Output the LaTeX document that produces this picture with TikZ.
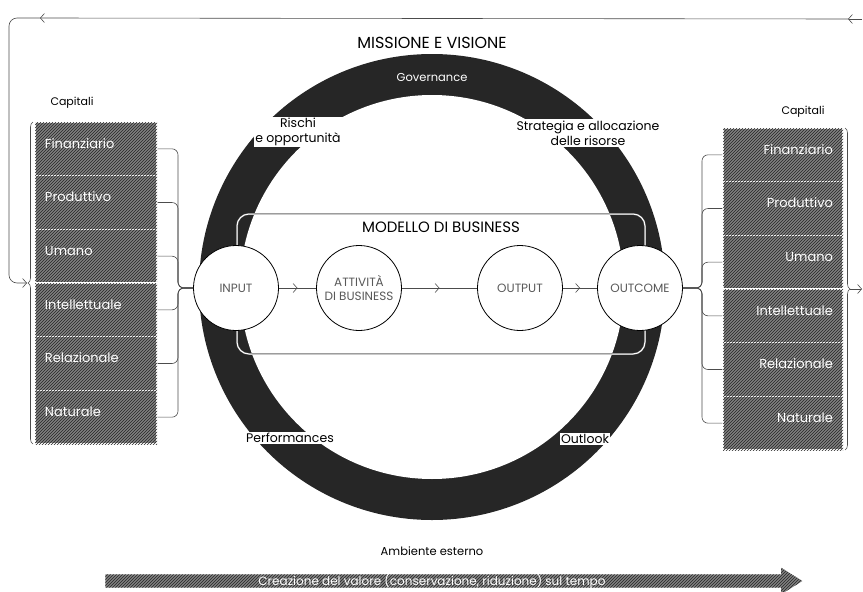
\documentclass[tikz,border=0pt]{standalone}
\usepackage{fontspec}
\setmainfont{Poppins}
\usetikzlibrary{arrows.meta,patterns,decorations.pathreplacing,decorations.markings,shapes.arrows,positioning}

\begin{document}
\begin{tikzpicture}[x=1pt,y=-1pt,
    link/.style={draw=black!70,line width=0.6pt},
    barb/.style={-{Straight Barb[length=4pt,width=9pt]}},
    midbarb/.style={decoration={markings,mark=at position 0.5 with {\arrow{Straight Barb[length=4pt,width=9pt]}}},postaction={decorate}},
    hatch/.style={fill=black!50,postaction={pattern=north east lines,pattern color=black!85}},
    capbox/.style={hatch,draw=white,line width=1.4pt,
        minimum height=53.67pt,inner xsep=10pt,text=white,text depth=11pt,font=\fontsize{13}{15}\selectfont},
    stage/.style={circle,draw,line width=0.8pt,fill=white,minimum size=85pt,inner sep=0pt,align=center,
        text=black!65,font=\fontsize{12}{13.5}\selectfont},
    tag/.style={fill=white,inner sep=1.5pt,align=center,font=\fontsize{12.5}{15}\selectfont}]
  \useasboundingbox (0,0) rectangle (863,592);

  % ring
  \node[circle,fill=black!85,minimum size=466pt,inner sep=0pt] (ringout) at (432,287) {};
  \node[circle,fill=white,minimum size=384pt,inner sep=0pt] (ringin) at (ringout.center) {};
  \node[text=white,font=\fontsize{11.5}{13}\selectfont] (gov) at (432,77) {Governance};
  \node[font=\fontsize{16}{18}\selectfont] (mission) at (432,43) {MISSIONE E VISIONE};
  \node[tag] (risk) at (298,132) {Rischi\\e opportunità};
  \node[tag] (strat) at (588,133) {Strategia e allocazione\\delle risorse};
  \node[tag] (perf) at (290,438) {Performances};
  \node[tag] (look) at (585,439) {Outlook};

  % business model
  \node[draw=black!60,double=white,double distance=1pt,rounded corners=12pt,
        minimum width=408pt,minimum height=140pt] (bm) at (441,284) {};
  \node[font=\fontsize{15}{17}\selectfont,below=5pt of bm.north] (bmtitle) {MODELLO DI BUSINESS};

  % capitals
  \node[font=\fontsize{11}{13}\selectfont] (lcap) at (72,103) {Capitali};
  \node[font=\fontsize{11}{13}\selectfont] (rcap) at (803,112) {Capitali};
  \foreach \lab [count=\i] in {Finanziario,Produttivo,Umano,Intellettuale,Relazionale,Naturale}{
    \node[capbox,text width=102pt,align=left] (lbox\i) at (96,{122+53.67*(\i-0.5)}) {\lab};
    \node[capbox,text width=100pt,align=right] (rbox\i) at (783,{128+53.67*(\i-0.5)}) {\lab};
  }

  % stages
  \node[stage] (in) at (236,288) {INPUT};
  \node[stage] (act) at (359,288) {ATTIVITÀ\\DI BUSINESS};
  \node[stage] (outp) at (520,288) {OUTPUT};
  \node[stage] (outc) at (640,288) {OUTCOME};
  \draw[link,midbarb] (in) -- (act);
  \draw[link,midbarb] (act) -- (outp);
  \draw[link,midbarb] (outp) -- (outc);

  % braces
  \foreach \i in {1,...,6}{
    \draw[link,rounded corners=6pt] (lbox\i.east) -| (178,288) -- (in.west);
    \draw[link,rounded corners=6pt] (outc.east) -- (702,288) |- (rbox\i.west);
  }
  \draw[link,decorate,decoration={brace,amplitude=5pt}] (33,444) -- (33,122);
  \draw[link,decorate,decoration={brace,amplitude=5pt}] (845,128) -- (845,450);

  % feedback loop
  \coordinate (rtip) at (850,289);
  \coordinate (rend) at (862,289);
  \coordinate (ltip) at (27,283);
  \coordinate (loopstart) at (862,19);
  \coordinate (looptop) at (848,19);
  \coordinate (loopmid) at (40,18);
  \draw[link,barb] (rtip) -- (rend);
  \draw[link,barb] (loopstart) -- (looptop);
  \draw[link,barb] (looptop) -- (loopmid);
  \draw[link,barb,rounded corners=8pt] (loopmid) -- (9,18) -- (9,283) -- (ltip);

  % environment and time
  \node[font=\fontsize{11.5}{13}\selectfont] (env) at (432,551) {Ambiente esterno};
  \node[single arrow,minimum height=697pt,minimum width=26pt,single arrow head extend=6.5pt,
        single arrow tip angle=64,inner xsep=0pt,inner ysep=6.5pt,hatch] (time) at (448.5,581) {};
  \node[text=white,font=\fontsize{12}{14}\selectfont] (timetext) at (432,581)
    {Creazione del valore (conservazione, riduzione) sul tempo};
\end{tikzpicture}
\end{document}
